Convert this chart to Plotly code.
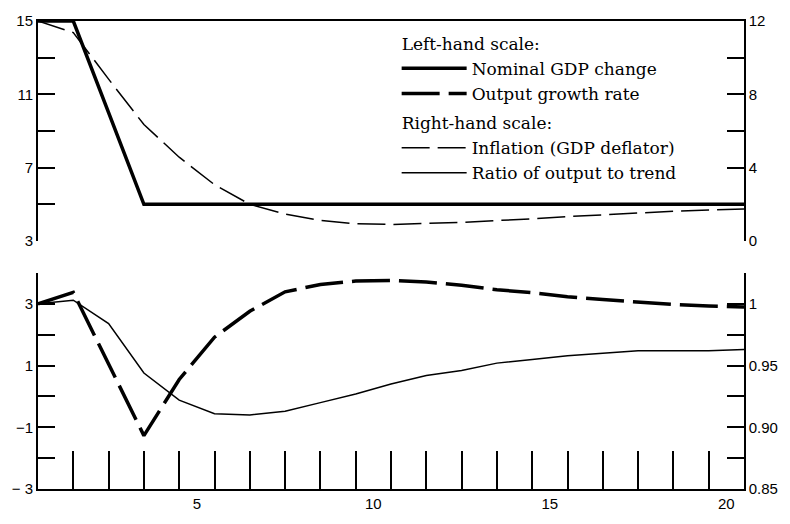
import plotly.graph_objects as go

periods = list(range(0, 21))

# Left-hand scale (top panel)
nominal_gdp = [15, 15, 10, 5, 5, 5, 5, 5, 5, 5, 5, 5, 5, 5, 5, 5, 5, 5, 5, 5, 5]
# Right-hand scale (top panel)
inflation = [12, 11.37, 8.83, 6.35, 4.57, 3.07, 2.0, 1.47, 1.12, 0.94, 0.90,
             0.94, 1.01, 1.12, 1.2, 1.33, 1.44, 1.53, 1.62, 1.69, 1.74]
# Left-hand scale (bottom panel)
output_growth = [3.0, 3.37, 1.05, -1.27, 0.55, 1.92, 2.76, 3.39, 3.63, 3.74, 3.76,
                 3.71, 3.60, 3.46, 3.36, 3.23, 3.14, 3.05, 2.98, 2.93, 2.90]
# Right-hand scale (bottom panel)
ratio_trend = [1.000, 1.003, 0.984, 0.944, 0.922, 0.911, 0.910, 0.913, 0.920, 0.927, 0.935,
               0.942, 0.946, 0.952, 0.955, 0.958, 0.960, 0.962, 0.962, 0.962, 0.963]

x_label_vals = [4.5, 9.5, 14.5, 19.5]
x_label_text = ["5", "10", "15", "20"]
x_minor_ticks = list(range(1, 20))

top_left_vals = [3, 5, 7, 9, 11, 13, 15]
top_left_text = ["3", "", "7", "", "11", "", "15"]
top_right_vals = [0, 2, 4, 6, 8, 10, 12]
top_right_text = ["0", "", "4", "", "8", "", "12"]
bot_left_vals = [-3, -2, -1, 0, 1, 2, 3, 4]
bot_left_text = ["− 3", "", "−1", "", "1", "", "3", ""]
bot_right_vals = [0.85, 0.875, 0.90, 0.925, 0.95, 0.975, 1.0, 1.025]
bot_right_text = ["0.85", "", "0.90", "", "0.95", "", "1", ""]

fig = go.Figure()
fig.add_trace(go.Scatter(x=periods, y=nominal_gdp, xaxis="x2", yaxis="y2", mode="lines",
                         line=dict(color="black", width=3.5),
                         name="Nominal GDP change", legendgroup="L",
                         legendgrouptitle=dict(text="Left-hand scale:")))
fig.add_trace(go.Scatter(x=periods, y=output_growth, xaxis="x", yaxis="y", mode="lines",
                         line=dict(color="black", width=3.5, dash="38px,9px"),
                         name="Output growth rate", legendgroup="L"))
fig.add_trace(go.Scatter(x=periods, y=inflation, xaxis="x2", yaxis="y3", mode="lines",
                         line=dict(color="black", width=1.5, dash="28px,8px"),
                         name="Inflation (GDP deflator)", legendgroup="R",
                         legendgrouptitle=dict(text="Right-hand scale:")))
fig.add_trace(go.Scatter(x=periods, y=ratio_trend, xaxis="x", yaxis="y4", mode="lines",
                         line=dict(color="black", width=1.5),
                         name="Ratio of output to trend", legendgroup="R"))

tickfont = dict(family="Liberation Sans", size=15, color="black")
ax_common = dict(showgrid=False, zeroline=False, linecolor="black", tickcolor="black",
                 tickfont=tickfont)

fig.update_layout(
    width=790, height=524,
    margin=dict(l=38, r=44, t=12, b=31),
    paper_bgcolor="white", plot_bgcolor="white",
    showlegend=True,
    legend=dict(x=0.508, y=0.99, xanchor="left", yanchor="top",
                bgcolor="rgba(0,0,0,0)", borderwidth=0,
                font=dict(family="DejaVu Serif", size=17, color="black"),
                grouptitlefont=dict(family="DejaVu Serif", size=17, color="black"),
                traceorder="grouped", tracegroupgap=4, itemwidth=65),
    xaxis=dict(domain=[0, 1], range=[0, 20], anchor="y", showline=True, linewidth=1.5,
               tickvals=x_label_vals, ticktext=x_label_text, ticks="",
               minor=dict(tickvals=x_minor_ticks, ticks="inside", ticklen=38,
                          tickwidth=1.5, tickcolor="black"),
               **ax_common),
    xaxis2=dict(domain=[0, 1], range=[0, 20], anchor="y2", side="top", showline=True,
                linewidth=1.5, showticklabels=False, ticks="", **ax_common),
    yaxis=dict(domain=[0, 0.4615], range=[-3, 4], anchor="x", showline=True, linewidth=2,
               tickvals=bot_left_vals, ticktext=bot_left_text, ticks="inside",
               ticklen=17, tickwidth=2, **ax_common),
    yaxis2=dict(domain=[0.530, 1], range=[3, 15], anchor="x2", showline=True, linewidth=2,
                tickvals=top_left_vals, ticktext=top_left_text, ticks="inside",
                ticklen=17, tickwidth=2, **ax_common),
    yaxis3=dict(range=[0, 12], overlaying="y2", anchor="x2", side="right", showline=True,
                linewidth=1.5, tickvals=top_right_vals, ticktext=top_right_text,
                ticks="inside", ticklen=17, tickwidth=1.5, **ax_common),
    yaxis4=dict(range=[0.85, 1.025], overlaying="y", anchor="x", side="right", showline=True,
                linewidth=1.5, tickvals=bot_right_vals, ticktext=bot_right_text,
                ticks="inside", ticklen=17, tickwidth=1.5, **ax_common),
)

fig.write_html("out.html")
